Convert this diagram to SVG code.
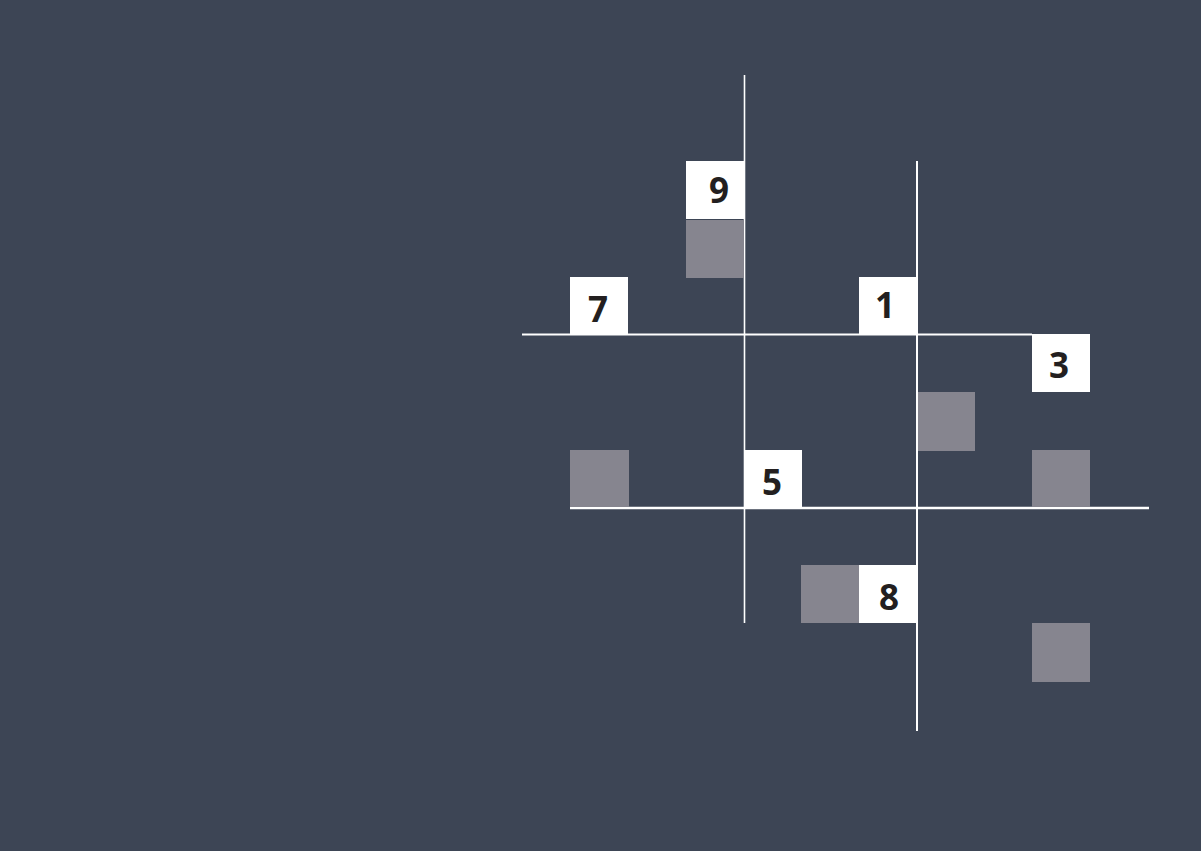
<svg xmlns="http://www.w3.org/2000/svg" width="1201" height="851" viewBox="0 0 1201 851">
<style>
.w{fill:#ffffff}
.g{fill:#86858f}
.t{font-family:"Open Sans","Liberation Sans",sans-serif;font-weight:bold;font-size:35px;fill:#231f20;text-anchor:middle}
.l{stroke:#ffffff;fill:none}
</style>
<rect width="1201" height="851" fill="#3d4555"/>
<g id="connectors">
<line class="l" x1="744.5" y1="75" x2="744.5" y2="623" stroke-width="1.6"/>
<line class="l" x1="917" y1="161" x2="917" y2="731" stroke-width="2"/>
<line class="l" x1="522" y1="334.5" x2="1032" y2="334.5" stroke-width="2"/>
<line class="l" x1="570" y1="508" x2="1149" y2="508" stroke-width="2.5"/>
</g>
<g id="n9"><rect class="w" x="686" y="161" width="58" height="58"/><text class="t" x="719" y="203">9</text></g>
<g id="g1"><rect class="g" x="686" y="220" width="58" height="58"/></g>
<g id="n7"><rect class="w" x="570" y="277" width="58" height="57"/><text class="t" x="598" y="322">7</text></g>
<g id="n1"><rect class="w" x="859" y="277" width="57" height="57"/><text class="t" x="885" y="318">1</text></g>
<g id="n3"><rect class="w" x="1032" y="334" width="58" height="58"/><text class="t" x="1059" y="378">3</text></g>
<g id="g2"><rect class="g" x="918" y="392" width="57" height="59"/></g>
<g id="g3"><rect class="g" x="570" y="450" width="59" height="57"/></g>
<g id="n5"><rect class="w" x="744" y="450" width="58" height="58"/><text class="t" x="772" y="495">5</text></g>
<g id="g4"><rect class="g" x="1032" y="450" width="58" height="57"/></g>
<g id="g5"><rect class="g" x="801" y="565" width="58" height="58"/></g>
<g id="n8"><rect class="w" x="859" y="565" width="57" height="58"/><text class="t" x="889" y="610">8</text></g>
<g id="g6"><rect class="g" x="1032" y="623" width="58" height="59"/></g>
</svg>
